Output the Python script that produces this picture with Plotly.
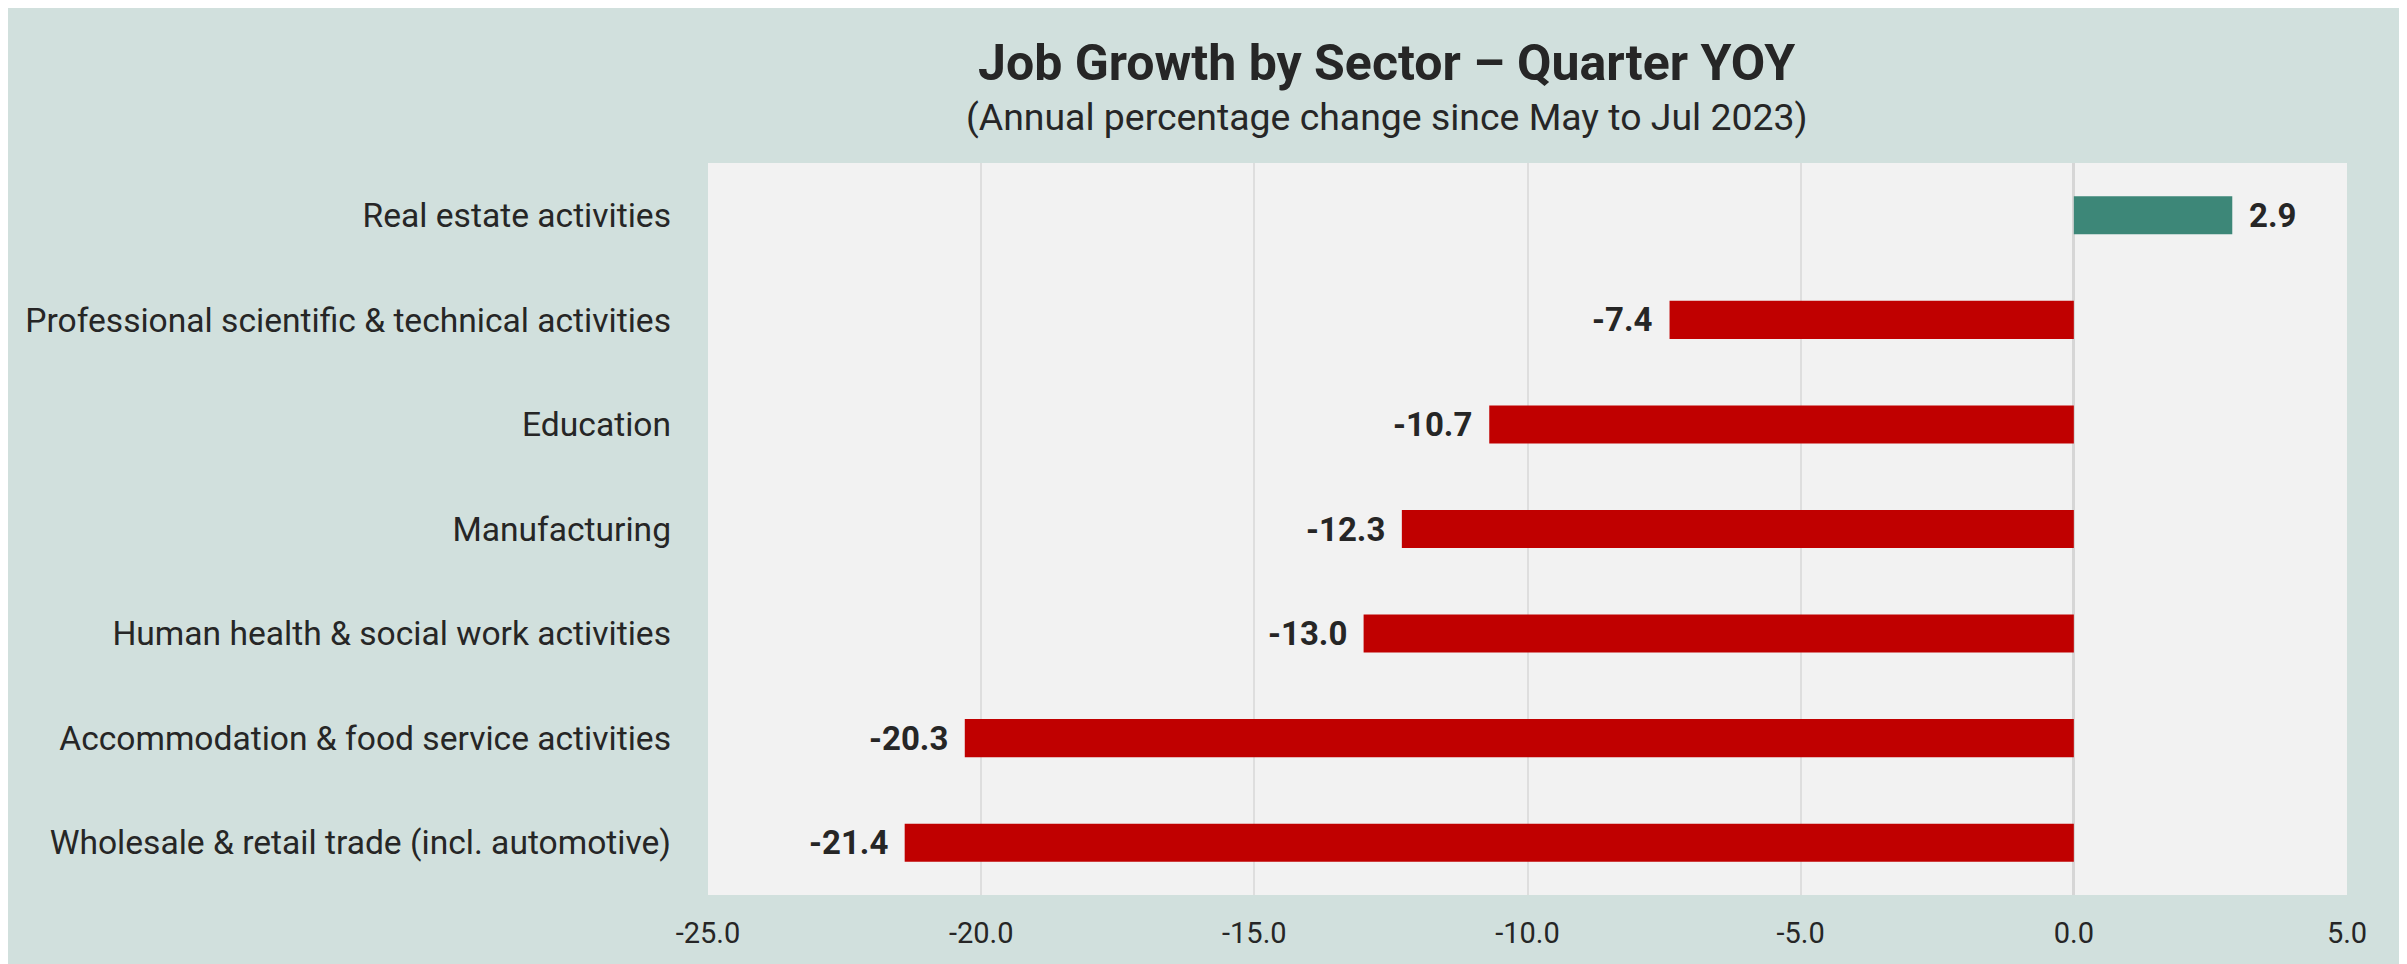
import plotly.graph_objects as go

sectors = [
    "Real estate activities",
    "Professional scientific & technical activities",
    "Education",
    "Manufacturing",
    "Human health & social work activities",
    "Accommodation & food service activities",
    "Wholesale & retail trade (incl. automotive)",
]
growth = [2.9, -7.4, -10.7, -12.3, -13.0, -20.3, -21.4]
x_ticks = [-25, -20, -15, -10, -5, 0, 5]
x_tick_labels = ["-25.0", "-20.0", "-15.0", "-10.0", "-5.0", "0.0", "5.0"]

POS = "#3D8778"
NEG = "#C00000"
TXT = "#262626"
FONT = "Roboto"

colors = [POS if v >= 0 else NEG for v in growth]

fig = go.Figure(go.Bar(
    x=growth, y=sectors, orientation="h",
    marker=dict(color=colors, line=dict(width=0)),
    hoverinfo="x+y",
))

annotations = []
for s, v in zip(sectors, growth):
    annotations.append(dict(
        x=v, y=s, xref="x", yref="y", text=f"<b>{v:.1f}</b>", showarrow=False,
        xanchor="left" if v >= 0 else "right", xshift=15 if v >= 0 else -15,
        font=dict(family=FONT, size=33, color=TXT),
    ))

annotations.append(dict(
    x=0.4137, y=1.1366, xref="paper", yref="paper", showarrow=False,
    xanchor="center", yanchor="middle",
    text="<b>Job Growth by Sector – Quarter YOY</b>",
    font=dict(family=FONT, size=50, color=TXT),
))
annotations.append(dict(
    x=0.4137, y=1.0628, xref="paper", yref="paper", showarrow=False,
    xanchor="center", yanchor="middle",
    text="(Annual percentage change since May to Jul 2023)",
    font=dict(family=FONT, size=37.4, color=TXT),
))

fig.update_layout(
    width=2391, height=956,
    margin=dict(l=700, r=52, t=155, b=69),
    paper_bgcolor="#D1E0DD",
    plot_bgcolor="#F2F2F2",
    bargap=0.636,
    showlegend=False,
    xaxis=dict(
        range=[-25, 5], tickvals=x_ticks, ticktext=x_tick_labels,
        showgrid=True, gridcolor="#DEDEDE", gridwidth=1.5,
        zeroline=True, zerolinecolor="#D6D6D6", zerolinewidth=3,
        showline=False, ticks="", ticklabelstandoff=18,
        tickfont=dict(family=FONT, size=29, color=TXT),
    ),
    yaxis=dict(
        autorange="reversed", showgrid=False, zeroline=False, showline=False,
        ticks="", ticklabelstandoff=36,
        tickfont=dict(family=FONT, size=33.6, color=TXT),
    ),
    annotations=annotations,
)

fig.write_html("out.html")
